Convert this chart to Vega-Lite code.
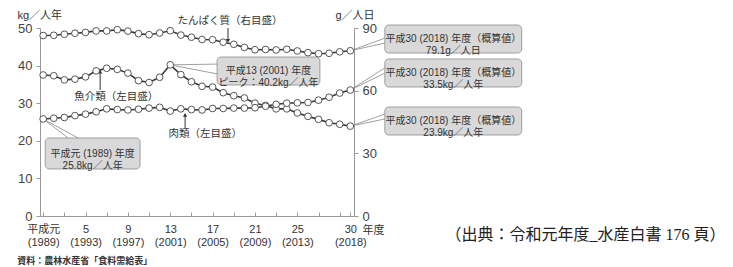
{
  "$schema": "https://vega.github.io/schema/vega-lite/v6.json",
  "width": 314,
  "height": 188,
  "autosize": "none",
  "padding": {"left": 40, "top": 28, "right": 379, "bottom": 51},
  "background": "white",
  "config": {
    "view": {"stroke": null},
    "font": "Liberation Sans, Noto Sans CJK JP",
    "axis": {"grid": false, "labelOverlap": false, "domainColor": "#999999", "tickColor": "#999999", "labelColor": "#444444", "titleColor": "#333333", "titleFontWeight": "normal"}
  },
  "datasets": {
    "series": [
      {"year": 1989, "series": "fish", "value": 37.5}, {"year": 1990, "series": "fish", "value": 37.3}, {"year": 1991, "series": "fish", "value": 36.2}, {"year": 1992, "series": "fish", "value": 36.4}, {"year": 1993, "series": "fish", "value": 37.0}, {"year": 1994, "series": "fish", "value": 38.6}, {"year": 1995, "series": "fish", "value": 39.3}, {"year": 1996, "series": "fish", "value": 39.0}, {"year": 1997, "series": "fish", "value": 38.0}, {"year": 1998, "series": "fish", "value": 36.0}, {"year": 1999, "series": "fish", "value": 35.5}, {"year": 2000, "series": "fish", "value": 36.9}, {"year": 2001, "series": "fish", "value": 40.2}, {"year": 2002, "series": "fish", "value": 37.6}, {"year": 2003, "series": "fish", "value": 35.7}, {"year": 2004, "series": "fish", "value": 34.5}, {"year": 2005, "series": "fish", "value": 34.3}, {"year": 2006, "series": "fish", "value": 32.8}, {"year": 2007, "series": "fish", "value": 32.0}, {"year": 2008, "series": "fish", "value": 31.4}, {"year": 2009, "series": "fish", "value": 30.0}, {"year": 2010, "series": "fish", "value": 29.4}, {"year": 2011, "series": "fish", "value": 28.5}, {"year": 2012, "series": "fish", "value": 28.5}, {"year": 2013, "series": "fish", "value": 27.4}, {"year": 2014, "series": "fish", "value": 26.5}, {"year": 2015, "series": "fish", "value": 25.7}, {"year": 2016, "series": "fish", "value": 24.8}, {"year": 2017, "series": "fish", "value": 24.4}, {"year": 2018, "series": "fish", "value": 23.9},
      {"year": 1989, "series": "meat", "value": 25.8}, {"year": 1990, "series": "meat", "value": 26.0}, {"year": 1991, "series": "meat", "value": 26.2}, {"year": 1992, "series": "meat", "value": 26.7}, {"year": 1993, "series": "meat", "value": 27.1}, {"year": 1994, "series": "meat", "value": 27.7}, {"year": 1995, "series": "meat", "value": 28.5}, {"year": 1996, "series": "meat", "value": 28.3}, {"year": 1997, "series": "meat", "value": 28.2}, {"year": 1998, "series": "meat", "value": 28.4}, {"year": 1999, "series": "meat", "value": 28.7}, {"year": 2000, "series": "meat", "value": 28.9}, {"year": 2001, "series": "meat", "value": 27.9}, {"year": 2002, "series": "meat", "value": 28.5}, {"year": 2003, "series": "meat", "value": 28.3}, {"year": 2004, "series": "meat", "value": 28.2}, {"year": 2005, "series": "meat", "value": 28.6}, {"year": 2006, "series": "meat", "value": 28.6}, {"year": 2007, "series": "meat", "value": 28.7}, {"year": 2008, "series": "meat", "value": 28.7}, {"year": 2009, "series": "meat", "value": 28.8}, {"year": 2010, "series": "meat", "value": 29.2}, {"year": 2011, "series": "meat", "value": 29.7}, {"year": 2012, "series": "meat", "value": 30.0}, {"year": 2013, "series": "meat", "value": 30.1}, {"year": 2014, "series": "meat", "value": 30.2}, {"year": 2015, "series": "meat", "value": 30.8}, {"year": 2016, "series": "meat", "value": 31.6}, {"year": 2017, "series": "meat", "value": 32.7}, {"year": 2018, "series": "meat", "value": 33.5},
      {"year": 1989, "series": "protein", "value": 86.4}, {"year": 1990, "series": "protein", "value": 86.5}, {"year": 1991, "series": "protein", "value": 87.0}, {"year": 1992, "series": "protein", "value": 87.5}, {"year": 1993, "series": "protein", "value": 87.9}, {"year": 1994, "series": "protein", "value": 88.6}, {"year": 1995, "series": "protein", "value": 88.6}, {"year": 1996, "series": "protein", "value": 89.2}, {"year": 1997, "series": "protein", "value": 88.5}, {"year": 1998, "series": "protein", "value": 87.3}, {"year": 1999, "series": "protein", "value": 86.8}, {"year": 2000, "series": "protein", "value": 87.6}, {"year": 2001, "series": "protein", "value": 88.7}, {"year": 2002, "series": "protein", "value": 86.6}, {"year": 2003, "series": "protein", "value": 85.6}, {"year": 2004, "series": "protein", "value": 84.5}, {"year": 2005, "series": "protein", "value": 84.4}, {"year": 2006, "series": "protein", "value": 83.2}, {"year": 2007, "series": "protein", "value": 82.2}, {"year": 2008, "series": "protein", "value": 80.7}, {"year": 2009, "series": "protein", "value": 79.6}, {"year": 2010, "series": "protein", "value": 79.7}, {"year": 2011, "series": "protein", "value": 79.5}, {"year": 2012, "series": "protein", "value": 79.8}, {"year": 2013, "series": "protein", "value": 79.0}, {"year": 2014, "series": "protein", "value": 78.2}, {"year": 2015, "series": "protein", "value": 77.7}, {"year": 2016, "series": "protein", "value": 77.9}, {"year": 2017, "series": "protein", "value": 78.6}, {"year": 2018, "series": "protein", "value": 79.1}
    ],
    "callouts": [
      {"x1": 2021.26, "x2": 2034.19, "y1": 50.8, "y2": 43.35, "tx": 2027.73, "ty": 47.07, "label": ["平成30 (2018) 年度（概算値）", "79.1g／人日"]},
      {"x1": 2021.26, "x2": 2034.19, "y1": 41.76, "y2": 34.31, "tx": 2027.73, "ty": 38.03, "label": ["平成30 (2018) 年度（概算値）", "33.5kg／人年"]},
      {"x1": 2021.26, "x2": 2034.19, "y1": 28.99, "y2": 21.54, "tx": 2027.73, "ty": 25.27, "label": ["平成30 (2018) 年度（概算値）", "23.9kg／人年"]},
      {"x1": 2005.42, "x2": 2015.13, "y1": 42.29, "y2": 34.84, "tx": 2010.27, "ty": 38.56, "label": ["平成13 (2001) 年度", "ピーク：40.2kg／人年"]},
      {"x1": 1989.19, "x2": 1998.15, "y1": 20.74, "y2": 12.5, "tx": 1993.67, "ty": 16.62, "label": ["平成元 (1989) 年度", "25.8kg／人年"]}
    ],
    "leaders": [
      {"x": 2018, "y": 43.94, "x2": 2021.26, "y2": 47.3}, {"x": 2018, "y": 43.94, "x2": 2021.26, "y2": 46.0},
      {"x": 2018, "y": 33.5, "x2": 2021.26, "y2": 39.4}, {"x": 2018, "y": 33.5, "x2": 2021.26, "y2": 38.0},
      {"x": 2018, "y": 23.9, "x2": 2021.26, "y2": 27.1}, {"x": 2018, "y": 23.9, "x2": 2021.26, "y2": 25.8},
      {"x": 2001, "y": 40.2, "x2": 2005.42, "y2": 40.4}, {"x": 2001, "y": 40.2, "x2": 2005.42, "y2": 37.8},
      {"x": 1989, "y": 25.8, "x2": 1991.36, "y2": 20.74}, {"x": 1989, "y": 25.8, "x2": 1992.3, "y2": 20.74}
    ],
    "arrows": [
      {"name": "protein", "x": 2006.45, "tail": 50.0, "tip": 46.6},
      {"name": "fish", "x": 1994.38, "tail": 33.5, "tip": 38.4},
      {"name": "meat", "x": 2002.4, "tail": 23.4, "tip": 26.9}
    ],
    "names": [
      {"x": 2006.64, "y": 51.9, "label": "たんぱく質（右目盛）"},
      {"x": 1995.9, "y": 31.65, "label": "魚介類（左目盛）"},
      {"x": 2004.3, "y": 21.8, "label": "肉類（左目盛）"}
    ],
    "notes": [
      {"x": 1986.55, "y": -11.97, "label": "資料：農林水産省「食料需給表」"}
    ],
    "credit": [
      {"x": 2027.0, "y": -5.05, "label": "（出典：令和元年度_水産白書 176 頁）"}
    ]
  },
  "layer": [
    {
      "layer": [
        {
          "data": {"name": "leaders"},
          "mark": {"type": "rule", "color": "#888888", "strokeWidth": 0.8},
          "encoding": {
            "x": {"field": "x", "type": "quantitative", "axis": null},
            "x2": {"field": "x2"},
            "y": {"field": "y", "type": "quantitative", "scale": {"domain": [0, 50], "nice": false}, "axis": null},
            "y2": {"field": "y2"}
          }
        },
        {
          "data": {"name": "callouts"},
          "mark": {"type": "rect", "fill": "#d9d9d9", "stroke": "#8c8c8c", "strokeWidth": 0.8, "cornerRadius": 4},
          "encoding": {
            "x": {"field": "x1", "type": "quantitative", "axis": null},
            "x2": {"field": "x2"},
            "y": {"field": "y1", "type": "quantitative", "axis": null},
            "y2": {"field": "y2"}
          }
        },
        {
          "data": {"name": "callouts"},
          "mark": {"type": "text", "fontSize": 10, "color": "#333333", "lineHeight": 12, "align": "center", "baseline": "middle"},
          "encoding": {
            "x": {"field": "tx", "type": "quantitative", "axis": null},
            "y": {"field": "ty", "type": "quantitative", "axis": null},
            "text": {"field": "label"}
          }
        },
        {
          "data": {"name": "arrows"},
          "mark": {"type": "rule", "color": "#333333", "strokeWidth": 1},
          "encoding": {
            "x": {"field": "x", "type": "quantitative", "axis": null},
            "y": {"field": "tail", "type": "quantitative", "axis": null},
            "y2": {"field": "tip"}
          }
        },
        {
          "data": {"name": "arrows"},
          "mark": {"type": "point", "filled": true, "color": "#333333", "size": 18, "opacity": 1},
          "encoding": {
            "x": {"field": "x", "type": "quantitative", "axis": null},
            "y": {"field": "tip", "type": "quantitative", "axis": null},
            "shape": {"condition": {"test": "datum.name == 'protein'", "value": "triangle-down"}, "value": "triangle-up"}
          }
        },
        {
          "data": {"name": "names"},
          "mark": {"type": "text", "fontSize": 10.5, "color": "#333333", "align": "center", "baseline": "middle"},
          "encoding": {
            "x": {"field": "x", "type": "quantitative", "axis": null},
            "y": {"field": "y", "type": "quantitative", "axis": null},
            "text": {"field": "label"}
          }
        },
        {
          "data": {"name": "notes"},
          "mark": {"type": "text", "fontSize": 9, "fontWeight": "bold", "color": "#333333", "align": "left", "baseline": "middle"},
          "encoding": {
            "x": {"field": "x", "type": "quantitative", "axis": null},
            "y": {"field": "y", "type": "quantitative", "axis": null},
            "text": {"field": "label"}
          }
        },
        {
          "data": {"name": "credit"},
          "mark": {"type": "text", "fontSize": 16, "font": "Liberation Serif, Noto Sans CJK JP", "color": "#222222", "align": "left", "baseline": "middle"},
          "encoding": {
            "x": {"field": "x", "type": "quantitative", "axis": null},
            "y": {"field": "y", "type": "quantitative", "axis": null},
            "text": {"field": "label"}
          }
        }
      ]
    },
    {
      "data": {"name": "series"},
      "transform": [{"filter": "datum.series != 'protein'"}],
      "mark": {"type": "line", "color": "#3a3a3a", "strokeWidth": 1.6, "point": {"filled": true, "fill": "white", "stroke": "#555555", "strokeWidth": 1, "size": 45, "opacity": 1}},
      "encoding": {
        "x": {
          "field": "year", "type": "quantitative",
          "scale": {"domain": [1988.7, 2018.35], "nice": false, "zero": false},
          "axis": {
            "values": [1989, 1991, 1993, 1995, 1997, 1999, 2001, 2003, 2005, 2007, 2009, 2011, 2013, 2015, 2017, 2018],
            "labelExpr": "datum.value == 1989 ? ['平成元', '(1989)'] : (indexof([1993, 1997, 2001, 2005, 2009, 2013, 2018], datum.value) >= 0 ? [toString(datum.value - 1988), '(' + toString(datum.value) + ')'] : '')",
            "labelFontSize": 11, "labelLineHeight": 13, "labelOverlap": false, "labelFlush": false,
            "labelBaseline": "top", "labelColor": "#333333",
            "tickSize": -4, "labelPadding": 11,
            "title": "年度", "titleAngle": 0, "titleAlign": "left", "titleBaseline": "middle",
            "titleX": 322, "titleY": 14, "titleFontSize": 11
          }
        },
        "y": {
          "field": "value", "type": "quantitative",
          "scale": {"domain": [0, 50], "nice": false},
          "axis": {
            "values": [0, 10, 20, 30, 40, 50],
            "labelFontSize": 13, "tickSize": 4, "labelPadding": 4, "labelOverlap": false,
            "title": "kg／人年", "titleAngle": 0, "titleAlign": "left", "titleBaseline": "middle",
            "titleX": -23, "titleY": -13, "titleFontSize": 11
          }
        },
        "detail": {"field": "series"}
      }
    },
    {
      "data": {"name": "series"},
      "transform": [{"filter": "datum.series == 'protein'"}],
      "mark": {"type": "line", "color": "#3a3a3a", "strokeWidth": 1.6, "point": {"filled": true, "fill": "white", "stroke": "#555555", "strokeWidth": 1, "size": 45, "opacity": 1}},
      "encoding": {
        "x": {"field": "year", "type": "quantitative", "axis": null},
        "y": {
          "field": "value", "type": "quantitative",
          "scale": {"domain": [0, 90], "nice": false},
          "axis": {
            "orient": "right",
            "values": [0, 30, 60, 90],
            "labelFontSize": 13, "tickSize": 4, "labelPadding": 4, "labelOverlap": false,
            "title": "g／人日", "titleAngle": 0, "titleAlign": "left", "titleBaseline": "middle",
            "titleX": -19, "titleY": -13, "titleFontSize": 11
          }
        }
      }
    }
  ],
  "resolve": {"scale": {"y": "independent"}, "axis": {"x": "independent"}}
}
